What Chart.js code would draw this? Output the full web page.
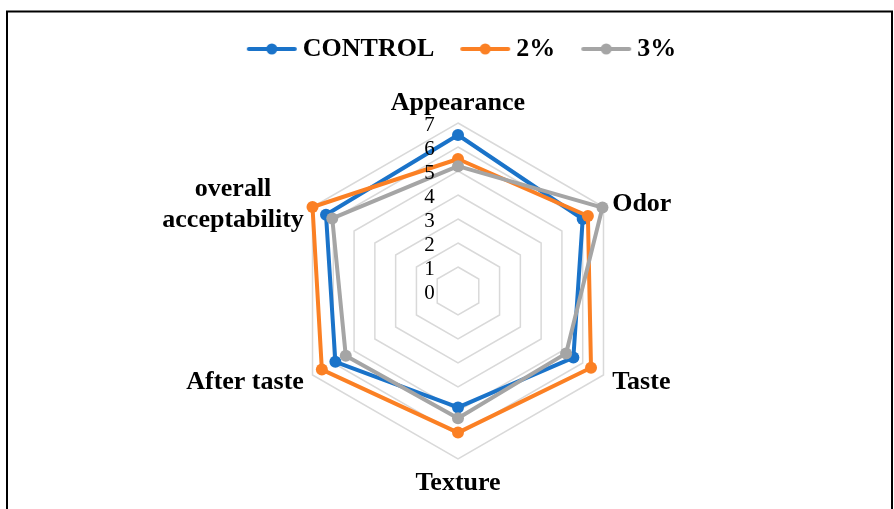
<!DOCTYPE html>
<html>
<head>
<meta charset="utf-8">
<title>Sensory evaluation radar</title>
<script src="https://cdn.jsdelivr.net/npm/chart.js@4.4.0/dist/chart.umd.min.js"></script>
<style>
  html, body { margin: 0; padding: 0; background: #fff; }
</style>
</head>
<body>
<canvas id="radarChart" width="894" height="509"></canvas>
<script>
// data
const categories = ['Appearance', 'Odor', 'Taste', 'Texture', 'After taste', ['overall', 'acceptability']];
const seriesNames = ['CONTROL', '2%', '3%'];
const controlValues = [6.5, 6.0, 5.55, 4.85, 5.9, 6.35];
const twoPctValues = [5.5, 6.25, 6.4, 5.9, 6.55, 7.0];
const threePctValues = [5.2, 6.95, 5.2, 5.3, 5.4, 6.05];
const tickValues = [0, 1, 2, 3, 4, 5, 6, 7];

const seriesColors = ['#1a73c9', '#fb8024', '#a5a5a5'];
const labelFont = 'bold 26px "Liberation Serif"';

// little line + dot icon for the legend, like excel draws it
function makeIcon(color) {
  const c = document.createElement('canvas');
  c.width = 52;
  c.height = 14;
  const g = c.getContext('2d');
  g.strokeStyle = color;
  g.lineWidth = 4;
  g.lineCap = 'round';
  g.beginPath();
  g.moveTo(3, 7);
  g.lineTo(49, 7);
  g.stroke();
  g.fillStyle = color;
  g.beginPath();
  g.arc(26, 7, 5.5, 0, Math.PI * 2);
  g.fill();
  return c;
}
const legendIcons = seriesColors.map(makeIcon);

const frame = {
  id: 'frame',
  beforeDraw(chart) {
    const ctx = chart.ctx;
    ctx.save();
    ctx.strokeStyle = '#000';
    ctx.lineWidth = 2;
    ctx.strokeRect(7, 11.5, 885, 540);
    ctx.restore();
  }
};

// category names, centred block for the two-line one
const axisNames = {
  id: 'axisNames',
  afterDraw(chart) {
    const scale = chart.scales.r;
    const ctx = chart.ctx;
    ctx.save();
    ctx.font = labelFont;
    ctx.fillStyle = '#000';
    ctx.textBaseline = 'middle';
    ctx.textAlign = 'center';
    categories.forEach((label, i) => {
      const p = scale.getPointPosition(i, scale.drawingArea + 10);
      const lines = Array.isArray(label) ? label : [label];
      const lineH = 31;
      const w = Math.max(...lines.map(l => ctx.measureText(l).width));
      const dx = p.x - scale.xCenter;
      let cx = p.x;
      let cy = p.y + 2;
      if (Math.abs(dx) < 1) {
        cy = p.y + (p.y < scale.yCenter ? -10 : 14);
      } else if (dx > 0) {
        cx = p.x + w / 2;
      } else {
        cx = p.x - w / 2;
      }
      if (lines.length > 1) cy += 1;
      lines.forEach((l, k) => {
        ctx.fillText(l, cx, cy + (k - (lines.length - 1) / 2) * lineH);
      });
    });
    ctx.restore();
  }
};

// tick numbers sit left of the vertical axis
const tickNumbers = {
  id: 'tickNumbers',
  afterDatasetsDraw(chart) {
    const scale = chart.scales.r;
    const ctx = chart.ctx;
    ctx.save();
    ctx.font = '21px "Liberation Serif"';
    ctx.fillStyle = '#000';
    ctx.textAlign = 'center';
    ctx.textBaseline = 'middle';
    tickValues.forEach(v => {
      const p = scale.getPointPositionForValue(0, v);
      ctx.fillText(String(v), scale.xCenter - 28.5, p.y + 2);
    });
    ctx.restore();
  }
};

function makeSeries(name, values, i) {
  return {
    label: name,
    data: values,
    borderColor: seriesColors[i],
    backgroundColor: seriesColors[i],
    fill: false,
    borderWidth: 4,
    borderJoinStyle: 'round',
    pointRadius: 6,
    pointHoverRadius: 6,
    pointBorderWidth: 0,
    pointBackgroundColor: seriesColors[i],
    order: 3 - i
  };
}

const ctx = document.getElementById('radarChart').getContext('2d');
const myChart = new Chart(ctx, {
  type: 'radar',
  data: {
    labels: categories,
    datasets: [
      makeSeries(seriesNames[0], controlValues, 0),
      makeSeries(seriesNames[1], twoPctValues, 1),
      makeSeries(seriesNames[2], threePctValues, 2)
    ]
  },
  options: {
    responsive: false,
    animation: false,
    devicePixelRatio: 1,
    layout: { padding: { top: 3, left: 36, right: 0, bottom: 0 } },
    plugins: {
      tooltip: { enabled: false },
      legend: {
        position: 'top',
        labels: {
          usePointStyle: true,
          pointStyleWidth: 36,
          padding: 33,
          color: '#000',
          font: { family: 'Liberation Serif', size: 26, weight: 'bold' },
          generateLabels: chart => chart.data.datasets.map((ds, i) => ({
            text: ds.label,
            pointStyle: legendIcons[i],
            fillStyle: ds.borderColor,
            strokeStyle: ds.borderColor,
            fontColor: '#000',
            lineWidth: 0,
            hidden: false,
            datasetIndex: i
          }))
        }
      }
    },
    scales: {
      r: {
        min: 0,
        max: 7,
        ticks: { stepSize: 1, display: false },
        grid: { color: '#d9d9d9', lineWidth: 1.5 },
        angleLines: { display: false },
        pointLabels: { display: false },
        // keep the plot where the original sits
        afterFit: s => {
          s.xCenter = 458;
          s.yCenter = 291;
          s.drawingArea = 168;
        }
      }
    }
  },
  plugins: [frame, axisNames, tickNumbers]
});
</script>
</body>
</html>
